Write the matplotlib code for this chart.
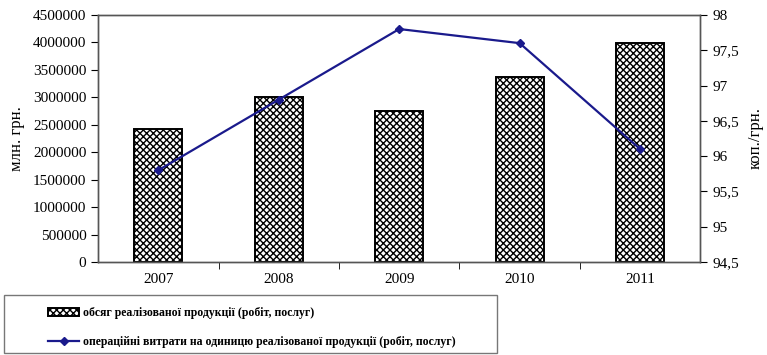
import numpy as np
import matplotlib
matplotlib.use("Agg")
from matplotlib import pyplot as plt
from matplotlib.patches import Patch, Rectangle
from matplotlib.lines import Line2D
from matplotlib.ticker import FuncFormatter

years = ["2007", "2008", "2009", "2010", "2011"]
# обсяг реалізованої продукції, млн. грн.
volume = [2420000, 3010000, 2750000, 3370000, 3990000]
# операційні витрати на одиницю продукції, коп./грн.
cost_per_unit = [95.8, 96.8, 97.8, 97.6, 96.1]

bar_label = "обсяг реалізованої продукції (робіт, послуг)"
line_label = "операційні витрати на одиницю реалізованої продукції (робіт, послуг)"

plt.rcParams['font.family'] = ['Liberation Serif', 'DejaVu Serif']
plt.rcParams['hatch.linewidth'] = 1.0

W, H = 767, 355
fig = plt.figure(figsize=(W / 100, H / 100), dpi=100)
ax = fig.add_axes([0.128, 0.262, 0.785, 0.696])
x = np.arange(len(years))

ax.bar(x, volume, width=0.4, facecolor='white', edgecolor='black',
       hatch='xxxxx', linewidth=1.4)
ax.set_xlim(-0.5, len(years) - 0.5)
ax.set_ylim(0, 4500000)
ax.set_yticks(np.arange(0, 4500001, 500000))
ax.yaxis.set_major_formatter(FuncFormatter(lambda v, p: f"{int(v)}"))
ax.set_ylabel("млн. грн.", fontsize=12, labelpad=6)
ax.set_xticks(x, years)
ax.set_xticks(np.arange(0.5, len(years) - 1), minor=True)
ax.tick_params(axis='x', which='major', length=0, pad=8, labelsize=11)
ax.tick_params(axis='x', which='minor', length=5, direction='out')
ax.tick_params(axis='y', labelsize=11, length=5, direction='out')

ax2 = ax.twinx()
ax2.plot(x, cost_per_unit, color='#1a1a8c', marker='D', markersize=4,
         linewidth=1.6)
ax2.set_ylim(94.5, 98)
ax2.set_yticks(np.arange(94.5, 98.01, 0.5))
ax2.yaxis.set_major_formatter(
    FuncFormatter(lambda v, p: f"{v:g}".replace('.', ',')))
ax2.set_ylabel("коп./грн.", fontsize=12, labelpad=6)
ax2.tick_params(axis='y', labelsize=11, length=5, direction='out')

for a in (ax, ax2):
    for s in a.spines.values():
        s.set_color('#555555')
        s.set_linewidth(1.0)

# legend frame drawn separately so the entries can sit indented inside it
fig.patches.append(Rectangle((4 / W, 1 - 353 / H), 493 / W, 58 / H,
                             transform=fig.transFigure, fill=False,
                             edgecolor='#777777', linewidth=1.0))

handles = [
    Patch(facecolor='white', edgecolor='black', hatch='xxxxx', linewidth=1.4),
    Line2D([0], [0], color='#1a1a8c', marker='D', markersize=4, linewidth=1.6),
]
leg = fig.legend(handles, [bar_label, line_label], loc='upper left',
                 bbox_to_anchor=(46 / W, 1 - 305 / H),
                 fontsize=8.5, frameon=False,
                 handlelength=2.6, handletextpad=0.3, borderaxespad=0,
                 labelspacing=1.45, borderpad=0.2)
for t in leg.get_texts():
    t.set_fontweight('bold')

fig.savefig("out.png", dpi=100)
